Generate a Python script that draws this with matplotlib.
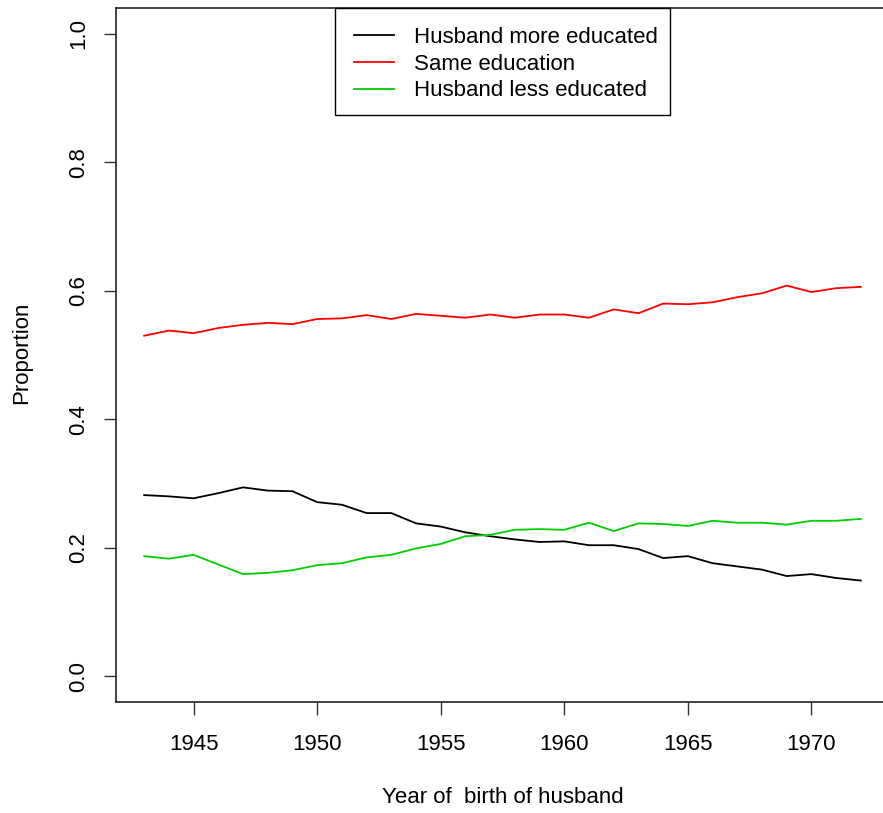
import matplotlib
matplotlib.use("Agg")
import matplotlib.pyplot as plt
from matplotlib.patches import Rectangle

plt.rcParams['font.family'] = ['Liberation Sans', 'DejaVu Sans']

# Data
years = list(range(1943, 1973))
more_educated = [0.282, 0.280, 0.277, 0.285, 0.294, 0.289, 0.288, 0.271, 0.267, 0.254,
                 0.254, 0.238, 0.233, 0.224, 0.218, 0.213, 0.209, 0.210, 0.204, 0.204,
                 0.198, 0.184, 0.187, 0.176, 0.171, 0.166, 0.156, 0.159, 0.153, 0.149]
same_education = [0.530, 0.538, 0.534, 0.542, 0.547, 0.550, 0.548, 0.556, 0.557, 0.562,
                   0.556, 0.564, 0.561, 0.558, 0.563, 0.558, 0.563, 0.563, 0.558, 0.571,
                   0.565, 0.580, 0.579, 0.582, 0.590, 0.596, 0.608, 0.598, 0.604, 0.606]
less_educated = [0.187, 0.183, 0.189, 0.174, 0.159, 0.161, 0.165, 0.173, 0.176, 0.185,
                 0.189, 0.199, 0.206, 0.218, 0.220, 0.228, 0.229, 0.228, 0.239, 0.226,
                 0.238, 0.237, 0.234, 0.242, 0.239, 0.239, 0.236, 0.242, 0.242, 0.245]
labels = ['Husband more educated', 'Same education', 'Husband less educated']
colors = ['#000000', '#FF0000', '#00CD00']

W, H = 883, 813
fig = plt.figure(figsize=(W / 100, H / 100), dpi=100)
# plot box: left 115.5px, right ~889.5px (past the image edge), top 8px, bottom 702px
ax = fig.add_axes([115.5 / W, (H - 702) / H, (889.5 - 115.5) / W, (702 - 8) / H])

for series, lab, col in zip([more_educated, same_education, less_educated], labels, colors):
    ax.plot(years, series, color=col, linewidth=1.3, label=lab)

ax.set_xlim(1943 - 0.04 * 29, 1972 + 0.04 * 29)
ax.set_ylim(-0.04, 1.04)
ax.set_xticks([1945, 1950, 1955, 1960, 1965, 1970])
ax.set_yticks([0.0, 0.2, 0.4, 0.6, 0.8, 1.0])
ax.set_yticklabels(['0.0', '0.2', '0.4', '0.6', '0.8', '1.0'], rotation=90, va='center')
ax.tick_params(axis='both', direction='out', length=9, width=1.0, labelsize=16, color='#333333')
ax.tick_params(axis='x', pad=14)
ax.tick_params(axis='y', pad=10)
for sp in ax.spines.values():
    sp.set_linewidth(1.2)
    sp.set_color('#222222')

fig.text(502.5 / W, 1 - 797 / H, 'Year of  birth of husband', ha='center', va='center', fontsize=16)
fig.text(22 / W, 1 - 353 / H, 'Proportion', ha='center', va='center', rotation=90, fontsize=16)

# legend box drawn separately so the padding can be uneven, like R's legend()
ax.add_patch(Rectangle((335 / W, 1 - 115 / H), (670 - 335) / W, (115 - 8) / H,
                       transform=fig.transFigure, facecolor='white', edgecolor='black',
                       linewidth=1.0, zorder=4, clip_on=False))
leg = ax.legend(loc='upper left', bbox_to_anchor=(335 / W, 1 - 8 / H), bbox_transform=fig.transFigure,
                fontsize=16, frameon=False, borderaxespad=0,
                handlelength=1.8, handletextpad=0.9, borderpad=0.85, labelspacing=0.26)
leg.set_zorder(5)

fig.savefig('out.png', dpi=100)
